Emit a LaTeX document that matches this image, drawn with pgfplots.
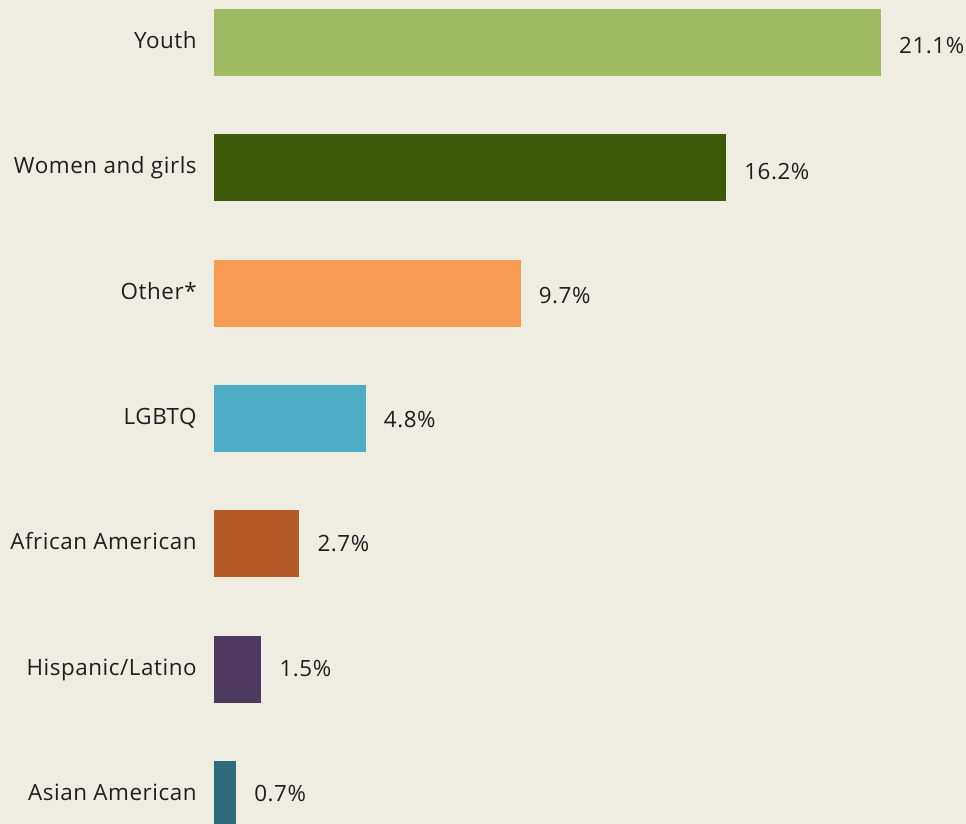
\documentclass[border=0pt]{standalone}
\usepackage{pgfplots}
\pgfplotsset{compat=1.18}
\usepackage{fontspec}
\setmainfont[LetterSpace=2.5]{Open Sans}
\definecolor{bgcol}{HTML}{EFECE2}
\definecolor{txt}{HTML}{1F1F1F}
\definecolor{cA}{HTML}{9FBB62}
\definecolor{cB}{HTML}{3D5A0B}
\definecolor{cC}{HTML}{F79A52}
\definecolor{cD}{HTML}{50ABC7}
\definecolor{cE}{HTML}{B65A28}
\definecolor{cF}{HTML}{4D3A5E}
\definecolor{cG}{HTML}{2D6A7A}
\begin{document}
\begin{tikzpicture}
\useasboundingbox (0,0) rectangle (966pt,824pt);
\fill[bgcol] (0,0) rectangle (966pt,824pt);
\begin{axis}[
  at={(214pt,-33.17pt)}, anchor=south west,
  scale only axis, width=695.44pt, height=877.33pt,
  xbar, bar width=67pt, bar shift=0pt,
  xmin=0, xmax=22, ymin=-0.5, ymax=6.5,
  axis x line=none,
  axis y line=left,
  y axis line style={draw=none},
  ytick style={draw=none},
  ytick={0,1,2,3,4,5,6},
  yticklabels={Asian American, Hispanic/Latino, African American, LGBTQ, Other*, Women and girls, Youth},
  yticklabel style={anchor=base east, inner sep=0pt, xshift=-15pt, yshift=-6pt, text=txt, font=\fontsize{22.4}{26}\selectfont},
  nodes near coords={\pgfmathprintnumber{\pgfplotspointmeta}\%},
  point meta=x,
  /pgf/number format/.cd, fixed, precision=1, fixed zerofill, assume math mode=true,
  /pgfplots/.cd,
  nodes near coords style={anchor=base west, inner sep=0pt, xshift=18pt, text=txt, font=\fontsize{22.4}{26}\selectfont},
  clip=false,
]
\addplot[draw=none, fill=cA, every node near coord/.append style={yshift=-11.5pt}] coordinates {(21.1,6)};
\addplot[draw=none, fill=cB, every node near coord/.append style={yshift=-11.5pt}] coordinates {(16.2,5)};
\addplot[draw=none, fill=cC, every node near coord/.append style={yshift=-10pt}] coordinates {(9.7,4)};
\addplot[draw=none, fill=cD, every node near coord/.append style={yshift=-9pt}] coordinates {(4.8,3)};
\addplot[draw=none, fill=cE, every node near coord/.append style={yshift=-7.5pt}] coordinates {(2.7,2)};
\addplot[draw=none, fill=cF, every node near coord/.append style={yshift=-7pt}] coordinates {(1.5,1)};
\addplot[draw=none, fill=cG, every node near coord/.append style={yshift=-6.5pt}] coordinates {(0.7,0)};
\end{axis}
\end{tikzpicture}
\end{document}
